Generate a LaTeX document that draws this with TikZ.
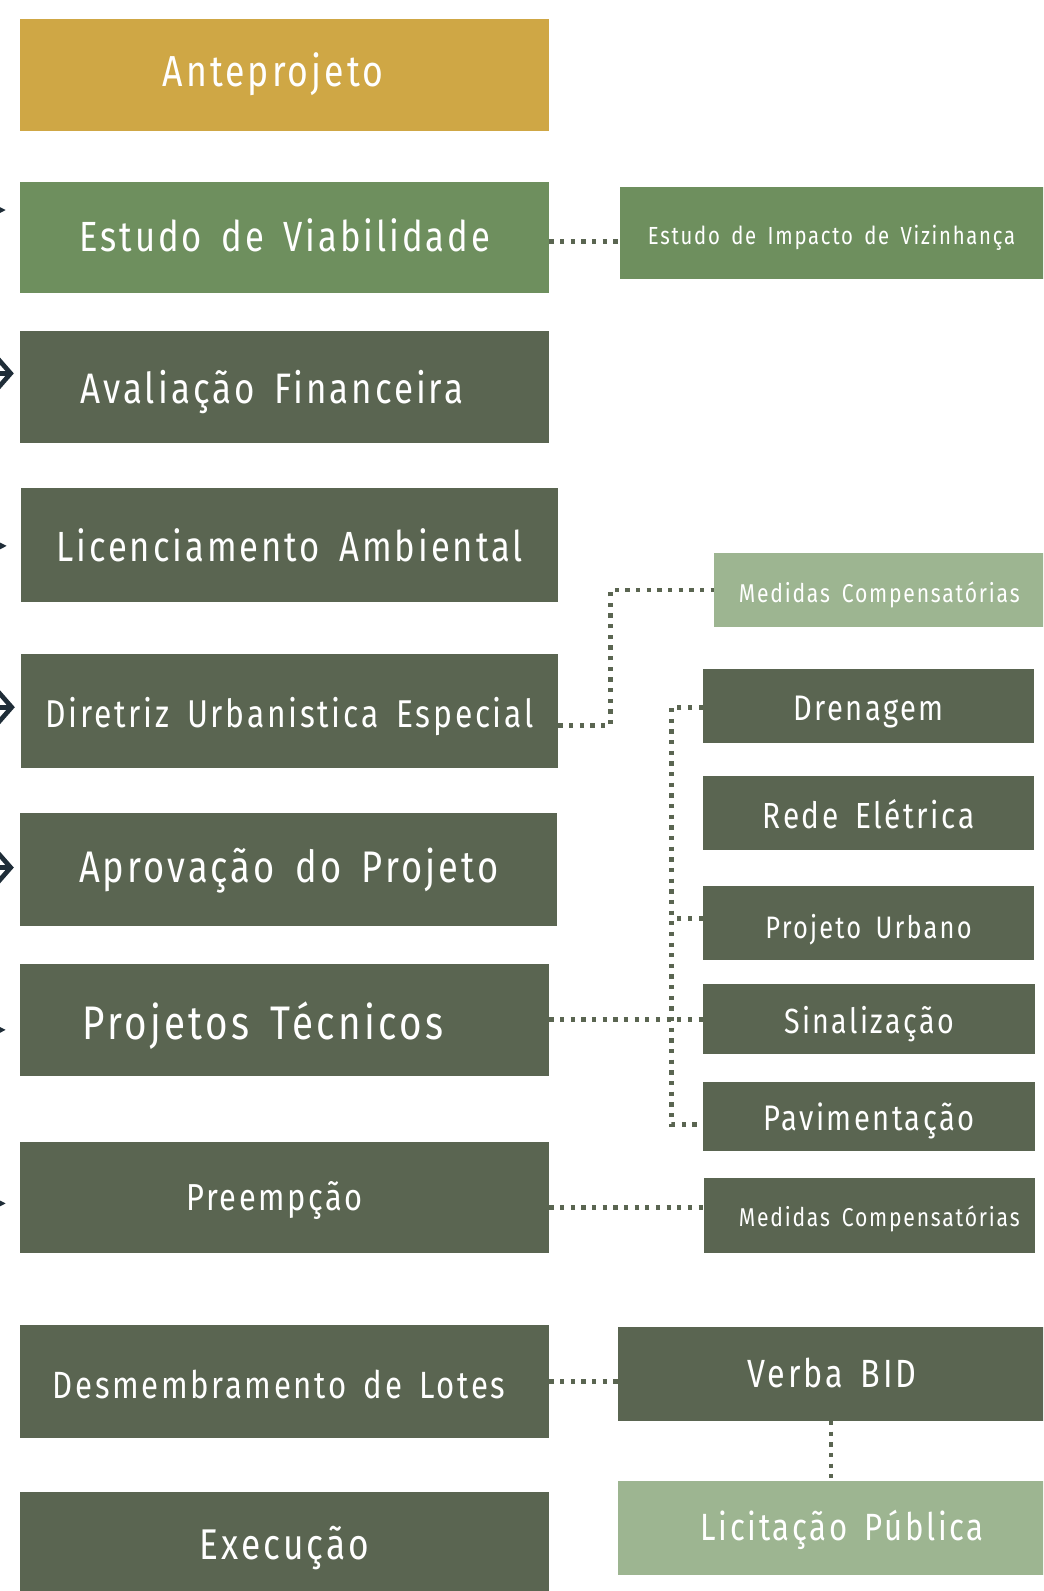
\documentclass[tikz,border=0pt]{standalone}
\usepackage{fontspec}
\setmainfont{Fira Sans}[FakeStretch=0.82, LetterSpace=7, WordSpace=1.6]
\usepackage{tikz}
\usetikzlibrary{arrows.meta, calc, positioning, fit}
\usepackage{xcolor}
\definecolor{ouro}{HTML}{CFA745}
\definecolor{verde}{HTML}{6E8F5E}
\definecolor{musgo}{HTML}{5A6551}
\definecolor{salvia}{HTML}{9DB591}
\definecolor{seta}{HTML}{1F2D38}

\begin{document}
\begin{tikzpicture}[x=0.5pt, y=-0.5pt,
    caixa/.style={fill=#1, draw=none, inner sep=0pt},
    rot/.style={text=white, inner sep=0pt, text depth=0pt, text height=0.69*#1 pt, font=\fontsize{#1}{#1}\selectfont},
    pontos/.style={draw=musgo, line width=2.3pt, dash pattern=on 2.1pt off 3.15pt},
    ponta/.style={draw=seta, line width=1.8pt, -{Stealth[length=6pt, width=6pt]}, shorten >=7pt},
    farpa/.style={draw=seta, line width=2.3pt, -{Straight Barb[length=7pt, width=16pt]}, shorten >=3pt}]
    \useasboundingbox (0,0) rectangle (1028,1568);
    \clip (0,0) rectangle (1028,1568);
    \fill[white] (0,0) rectangle (1028,1568);

    % coluna principal
    \node[caixa=ouro, fit={(20,19)(541,129)}, label={[rot=21.4, xshift=-5.75pt, yshift=2pt]center:Anteprojeto}] (ante) {};
    \node[caixa=verde, fit={(20,179)(541,289)}, label={[rot=20.8]center:Estudo de Viabilidade}] (est) {};
    \node[caixa=musgo, fit={(20,326)(541,437)}, label={[rot=21, xshift=-6.25pt, yshift=-1pt]center:Avaliação Financeira}] (aval) {};
    \node[caixa=musgo, fit={(21,481)(550,593)}, label={[rot=20.8, yshift=-1pt]center:Licenciamento Ambiental}] (lic) {};
    \node[caixa=musgo, fit={(21,645)(550,757)}, label={[rot=19.1, yshift=-1.5pt]center:Diretriz Urbanistica Especial}] (dir) {};
    \node[caixa=musgo, fit={(20,801)(549,913)}, label={[rot=21.8, yshift=1pt]center:Aprovação do Projeto}] (apr) {};
    \node[caixa=musgo, fit={(20,950)(541,1060)}, label={[rot=23.2, xshift=-10.75pt, yshift=-1.5pt]center:Projetos Técnicos}] (tec) {};
    \node[caixa=musgo, fit={(20,1125)(541,1235)}, label={[rot=18.5, xshift=-5pt]center:Preempção}] (pre) {};
    \node[caixa=musgo, fit={(20,1306)(541,1417)}, label={[rot=18.7, xshift=-2.75pt, yshift=-1.75pt]center:Desmembramento de Lotes}] (des) {};
    \node[caixa=musgo, fit={(20,1470)(541,1590)}, label={[rot=21.2, yshift=4pt]center:Execução}] (exe) {};

    % coluna da direita
    \node[caixa=verde, fit={(611,184)(1040,275)}, label={[rot=12.2, xshift=-3pt, yshift=-1.75pt]center:Estudo de Impacto de Vizinhança}] (eiv) {};
    \node[caixa=salvia, fit={(704,545)(1040,618)}, label={[rot=12.7, xshift=-2.75pt, yshift=-1.75pt]center:Medidas Compensatórias}] (med1) {};
    \node[caixa=musgo, fit={(693,659)(1019,732)}, label={[rot=17.5, yshift=-1.25pt]center:Drenagem}] (dre) {};
    \node[caixa=musgo, fit={(693,765)(1019,838)}, label={[rot=17.9, yshift=-1.25pt]center:Rede Elétrica}] (rede) {};
    \node[caixa=musgo, fit={(693,873)(1019,946)}, label={[rot=15.3, yshift=-2.25pt]center:Projeto Urbano}] (pro) {};
    \node[caixa=musgo, fit={(693,970)(1020,1039)}, label={[rot=17.2, yshift=-1.25pt]center:Sinalização}] (sin) {};
    \node[caixa=musgo, fit={(693,1066)(1020,1134)}, label={[rot=17.5, yshift=-1pt]center:Pavimentação}] (pav) {};
    \node[caixa=musgo, fit={(694,1161)(1020,1235)}, label={[rot=12.7, xshift=4.75pt, yshift=-1pt]center:Medidas Compensatórias}] (med2) {};
    \node[caixa=musgo, fit={(609,1308)(1040,1400)}, label={[rot=19.4, xshift=-2.25pt]center:Verba BID}] (bid) {};
    \node[caixa=salvia, fit={(609,1460)(1040,1552)}, label={[rot=18.7, xshift=2.75pt, yshift=0.5pt]center:Licitação Pública}] (licp) {};

    % ligações pontilhadas
    \draw[pontos] ([yshift=-2pt]est.east) -- ([yshift=-2pt]est.east -| eiv.west);
    \draw[pontos] ([yshift=-7pt]dir.east) -| ([xshift=-51pt]med1.west) -- (med1.west);
    \coordinate (busT) at (662,697);
    \coordinate (busB) at (662,1108);
    \draw[pontos] (busT -| dre.west) -- (busT) -- (busB) -- (busB -| pav.west);
    \draw[pontos] ([yshift=2pt]pro.west) -- ([yshift=2pt]pro.west -| busT);
    \draw[pontos] (tec.east) -- (tec.east -| sin.west);
    \draw[pontos] ([yshift=-5pt]pre.east) -- ([yshift=-5pt]pre.east -| med2.west);
    \draw[pontos] (des.east) -- (des.east -| bid.west);
    \draw[pontos] ([xshift=-2.75pt]bid.south) -- ([xshift=-2.75pt]bid.south |- licp.north);

    % setas cortadas na margem
    \coordinate (s1) at (-40,207);
    \coordinate (s2) at (-40,368);
    \coordinate (s3) at (-40,538);
    \coordinate (s4) at (-40,697);
    \coordinate (s5) at (-40,855);
    \coordinate (s6) at (-40,1015);
    \coordinate (s7) at (-40,1186);
    \draw[ponta] (s1) -- (s1 -| est.west);
    \draw[farpa] (s2) -- (s2 -| aval.west);
    \draw[ponta] (s3) -- (s3 -| lic.west);
    \draw[farpa] (s4) -- (s4 -| dir.west);
    \draw[farpa] (s5) -- (s5 -| apr.west);
    \draw[ponta] (s6) -- (s6 -| tec.west);
    \draw[ponta] (s7) -- (s7 -| pre.west);
\end{tikzpicture}
\end{document}
